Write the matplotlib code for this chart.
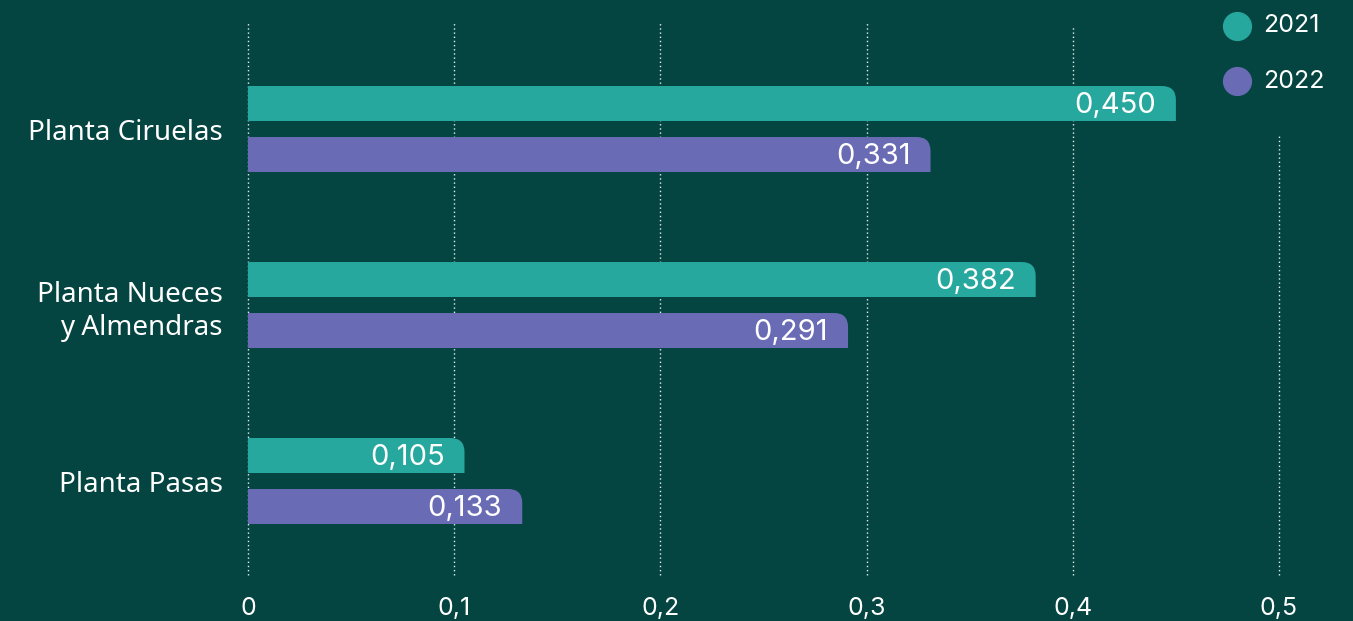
import numpy as np
from matplotlib import pyplot as plt
from matplotlib.path import Path
from matplotlib.patches import PathPatch
from matplotlib.lines import Line2D

categories = ["Planta Ciruelas", "Planta Nueces\ny Almendras", "Planta Pasas"]
years = ["2021", "2022"]
values_2021 = [0.450, 0.382, 0.105]
values_2022 = [0.331, 0.291, 0.133]
value_labels_2021 = ["0,450", "0,382", "0,105"]
value_labels_2022 = ["0,331", "0,291", "0,133"]
xticks = [0, 0.1, 0.2, 0.3, 0.4, 0.5]
xtick_labels = ["0", "0,1", "0,2", "0,3", "0,4", "0,5"]

BG = "#054541"
TEAL = "#26A89E"
PURPLE = "#6A6BB5"
W, H = 1353, 621

fig = plt.figure(figsize=(W / 100, H / 100), dpi=100)
fig.patch.set_facecolor(BG)
ax = fig.add_axes([248 / W, 1 - 575 / H, (1279 - 248) / W, (575 - 22) / H])
ax.set_facecolor(BG)
ax.set_xlim(0, 0.5)
ax.set_ylim(2.534, -0.608)

px_x = 0.5 / (1279 - 248)
px_y = (2.534 + 0.608) / (575 - 22)


def round_bar(y0, h, w, color):
    # bar with only the top-right corner rounded
    rx = min(14 * px_x, w)
    ry = 14 * px_y
    top = y0 - h / 2
    bot = y0 + h / 2
    verts = [(0, bot), (0, top), (w - rx, top), (w, top), (w, top + ry),
             (w, bot), (0, bot)]
    codes = [Path.MOVETO, Path.LINETO, Path.LINETO, Path.CURVE3, Path.CURVE3,
             Path.LINETO, Path.CLOSEPOLY]
    ax.add_patch(PathPatch(Path(verts, codes), facecolor=color, edgecolor="none", zorder=3))


# gridlines
for t in xticks:
    ytop = 136 if t == 0.5 else (25 if t == 0.4 else 22)
    ax.plot([t, t], [2.534, -0.608 + (ytop - 22) * px_y], color="white",
            lw=1, ls=(0, (1, 2)), zorder=1, alpha=0.9, clip_on=False)

off = 25.5 / 176
bh = 35 / 176
y = np.arange(len(categories))
for i in range(len(categories)):
    round_bar(y[i] - off, bh, values_2021[i], TEAL)
    round_bar(y[i] + off, bh, values_2022[i], PURPLE)
    ax.text(values_2021[i] - 20 * px_x, y[i] - off + 0.01, value_labels_2021[i],
            ha="right", va="center", color="white", fontsize=21, family="Inter", zorder=4)
    ax.text(values_2022[i] - 20 * px_x, y[i] + off + 0.01, value_labels_2022[i],
            ha="right", va="center", color="white", fontsize=21, family="Inter", zorder=4)

ax.set_yticks(y)
ax.set_yticklabels(categories, fontsize=20, color="white", family="Noto Sans",
                   ha="right", linespacing=1.25)
ax.set_xticks(xticks)
ax.set_xticklabels(xtick_labels, fontsize=18, color="white", family="Inter")
ax.tick_params(length=0)
ax.tick_params(axis="x", pad=16)
ax.tick_params(axis="y", pad=18)
for s in ax.spines.values():
    s.set_visible(False)

# legend
for j, (lab, c) in enumerate([(years[0], TEAL), (years[1], PURPLE)]):
    yy = 1 - (26 + 55 * j) / H
    fig.add_artist(Line2D([1237 / W], [yy], marker="o", markersize=20, color=c,
                          transform=fig.transFigure, linestyle="none"))
    fig.text(1263 / W, yy, lab, color="white", fontsize=18, family="Inter",
             va="center", ha="left")

fig.savefig("out.png", facecolor=BG)
